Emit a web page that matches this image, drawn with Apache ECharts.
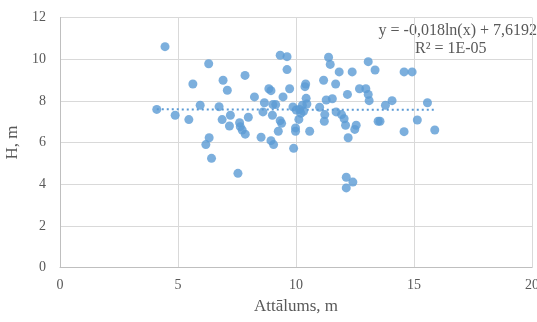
<!DOCTYPE html>
<html>
<head>
  <meta charset="UTF-8">
  <script src="https://cdn.jsdelivr.net/npm/echarts@6/dist/echarts.min.js"></script>
  <style>
    html, body { margin: 0; padding: 0; background: #fff; }
    #chart { width: 537px; height: 322px; }
  </style>
</head>
<body>
<div id="chart"></div>
<script type="text/javascript">
  // attalums (x) un augstums (y), nolasiti no attela
  var xVals = [4.10, 4.45, 4.88, 5.46, 5.63, 5.94, 6.18, 6.30, 6.32, 6.42,
               6.74, 6.87, 6.91, 7.09, 7.18, 7.22, 7.54, 7.61, 7.64, 7.72,
               7.85, 7.84, 7.98, 8.24, 8.52, 8.60, 8.66, 8.85, 8.94, 8.94,
               9.00, 9.02, 9.05, 9.14, 9.25, 9.33, 9.33, 9.39, 9.45, 9.62,
               9.62, 9.73, 9.87, 9.90, 9.98, 9.98, 10.01, 10.12, 10.15, 10.21,
               10.27, 10.32, 10.38, 10.41, 10.43, 10.46, 10.58, 11.00, 11.17, 11.20,
               11.22, 11.28, 11.38, 11.45, 11.54, 11.68, 11.70, 11.83, 11.93, 12.04,
               12.10, 12.13, 12.13, 12.18, 12.21, 12.38, 12.41, 12.49, 12.55, 12.69,
               12.96, 13.06, 13.06, 13.10, 13.35, 13.48, 13.56, 13.79, 14.07, 14.58,
               14.58, 14.92, 15.14, 15.57, 15.88];
  var yVals = [7.59, 10.60, 7.31, 7.10, 8.81, 7.79, 5.90, 9.78, 6.23, 5.24,
               7.72, 7.10, 8.99, 8.51, 6.79, 7.31, 4.52, 6.95, 6.76, 6.60,
               6.40, 9.22, 7.21, 8.19, 6.25, 7.47, 7.91, 8.58, 8.49, 6.09,
               7.31, 7.82, 5.90, 7.82, 6.54, 10.19, 7.05, 6.92, 8.19, 10.12,
               9.50, 8.58, 7.71, 5.72, 6.70, 6.54, 7.56, 7.11, 7.59, 7.40,
               7.79, 7.50, 8.68, 8.81, 8.12, 7.85, 6.54, 7.69, 8.99, 7.02,
               7.34, 8.04, 10.09, 9.75, 8.10, 8.81, 7.47, 9.39, 7.34, 7.14,
               6.83, 4.33, 3.82, 8.31, 6.23, 9.39, 4.10, 6.63, 6.83, 8.58,
               8.58, 9.88, 8.31, 8.01, 9.48, 7.02, 7.02, 7.79, 8.01, 9.39,
               6.52, 9.39, 7.08, 7.91, 6.60];

  // trendline y = a*ln(x) + b
  var trendA = -0.018;
  var trendB = 7.6192;
  var trendLabel = ['y = -0,018ln(x) + 7,6192', 'R² = 1E-05'];

  var xTicks = [0, 5, 10, 15, 20];
  var yTicks = [0, 2, 4, 6, 8, 10, 12];

  var points = xVals.map(function (x, i) { return [x, yVals[i]]; });
  var xMin = Math.min.apply(null, xVals), xMax = Math.max.apply(null, xVals);
  var trend = [];
  for (var k = 0; k <= 40; k++) {
    var tx = xMin + (xMax - xMin) * k / 40;
    trend.push([tx, trendA * Math.log(tx) + trendB]);
  }

  var txt = '#595959';
  var font = '"Liberation Serif", "Times New Roman", serif';
  var chart = echarts.init(document.getElementById('chart'), null, {renderer: 'canvas'});
  chart.setOption({
    animation: false,
    backgroundColor: '#ffffff',
    grid: {left: 60, right: 5, top: 17.5, bottom: 54.5, containLabel: false, outerBoundsMode: 'none'},
    xAxis: {
      type: 'value', min: xTicks[0], max: xTicks[xTicks.length - 1], interval: 5,
      name: 'Attālums, m', nameLocation: 'middle', nameGap: 31,
      nameTextStyle: {color: txt, fontFamily: font, fontSize: 17},
      axisLine: {show: true, lineStyle: {color: '#BFBFBF', width: 1}},
      axisTick: {show: false},
      axisLabel: {color: txt, fontFamily: font, fontSize: 14, margin: 11},
      splitLine: {show: true, lineStyle: {color: '#D9D9D9', width: 1}}
    },
    yAxis: {
      type: 'value', min: yTicks[0], max: yTicks[yTicks.length - 1], interval: 2,
      name: 'H, m', nameLocation: 'middle', nameGap: 36,
      nameTextStyle: {color: txt, fontFamily: font, fontSize: 17},
      axisLine: {show: true, lineStyle: {color: '#BFBFBF', width: 1}},
      axisTick: {show: false},
      axisLabel: {color: txt, fontFamily: font, fontSize: 14, margin: 14},
      splitLine: {show: true, lineStyle: {color: '#D9D9D9', width: 1}}
    },
    graphic: [
      {type: 'text', right: 0, top: 23, style: {text: trendLabel[0], fill: txt, font: '16px ' + font}},
      {type: 'text', left: 415, top: 41, style: {text: trendLabel[1], fill: txt, font: '16px ' + font}}
    ],
    series: [
      {
        type: 'scatter', data: points, symbol: 'circle', symbolSize: 9,
        itemStyle: {color: '#5B9BD5'}, z: 3
      },
      {
        type: 'line', data: trend, showSymbol: false, smooth: false,
        lineStyle: {color: '#5B9BD5', width: 2, type: [2, 3]}, z: 2
      }
    ]
  });
</script>
</body>
</html>
